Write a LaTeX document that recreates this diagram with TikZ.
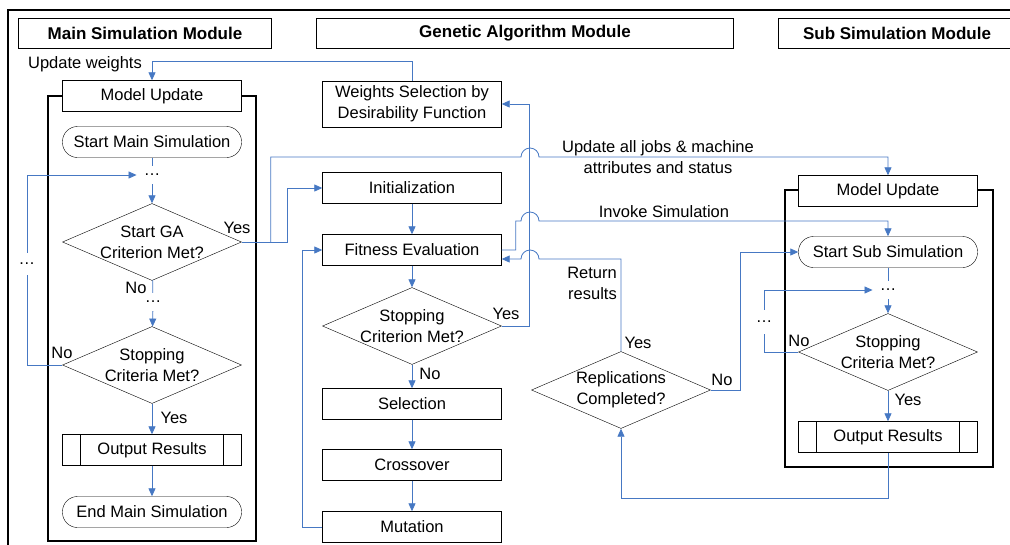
\documentclass[tikz,border=0pt]{standalone}
\usepackage{fontspec}
\setmainfont{Liberation Sans}
\usepackage{tikz}
\usetikzlibrary{shapes.geometric, arrows.meta, positioning, calc}
\definecolor{flowblue}{RGB}{70,120,195}
\tikzset{
  blk/.style={draw, fill=white, minimum width=179pt, minimum height=31pt, inner sep=2pt},
  term/.style={blk, rounded corners=15pt},
  predef/.style={blk, path picture={
      \draw ([xshift=18pt]path picture bounding box.north west) -- ([xshift=18pt]path picture bounding box.south west)
            ([xshift=-18pt]path picture bounding box.north east) -- ([xshift=-18pt]path picture bounding box.south east);}},
  decision/.style={draw, diamond, aspect=2.3, inner sep=-12pt, minimum width=179pt, minimum height=77pt, align=center},
  header/.style={minimum height=30pt, font=\fontsize{17}{20}\selectfont\bfseries},
  flow/.style={draw=flowblue, line width=0.8pt, -{Triangle[length=8pt,width=7pt]}},
  link/.style={draw=flowblue, line width=0.8pt},
  dotz/.style={inner xsep=7pt, inner ysep=9pt},
  lbl/.style={inner sep=0pt}
}
\newcommand{\flatdots}{\smash{\dots}}

\begin{document}
\begin{tikzpicture}[x=1pt, y=-1pt, font=\fontsize{16.5}{21}\selectfont]
    \useasboundingbox (0,0) rectangle (1010,544);
    % frame and module containers
    \draw[line width=2.5pt] (8,550) -- (8,10) -- (1020,10);
    \draw[line width=1.6pt] (48,96) rectangle (256,541);
    \draw[line width=1.6pt] (785,190) rectangle (993,467);

    \node[header, draw, minimum width=253pt] (mainhd) at (145,33) {Main Simulation Module};
    \node[header, draw, minimum width=417pt] (gahd) at (525,33) {Genetic Algorithm Module};
    \draw (1040,18) -| (778,48) -- (1040,48);
    \node[header] (subhd) at (897,33) {Sub Simulation Module};

    % main simulation
    \node[blk] (mainmu) at (152,96) {Model Update};
    \node[term] (startmain) at (152,142) {Start Main Simulation};
    \node[dotz] (dots1) at (152,175) {\flatdots};
    \node[decision] (sga) at (152,242) {Start GA\\Criterion Met?};
    \node[dotz] (dots2) at (153,302) {\flatdots};
    \node[decision] (mstop) at (152,365) {Stopping\\Criteria Met?};
    \node[predef] (mout) at (152,450) {Output Results};
    \node[term] (endmain) at (152,512) {End Main Simulation};
    \node[inner xsep=4pt, inner ysep=11pt] (ldots1) at (27,264) {\flatdots};

    \node[lbl] (updw) at (85,64) {Update weights};
    \node[lbl] (sgayes) at (237,228) {Yes};
    \node[lbl] (sgano) at (136,288) {No};
    \node[lbl] (mstopno) at (62,353) {No};
    \node[lbl] (mstopyes) at (174,418) {Yes};

    % genetic algorithm
    \node[blk, minimum height=46pt, align=center] (wsel) at (412,104) {Weights Selection by\\Desirability Function};
    \node[blk] (init) at (412,188) {Initialization};
    \node[blk] (fit) at (412,250) {Fitness Evaluation};
    \node[decision] (gstop) at (412,326) {Stopping\\Criterion Met?};
    \node[blk] (sel) at (412,404) {Selection};
    \node[blk] (cross) at (412,465) {Crossover};
    \node[blk] (mut) at (412,527) {Mutation};

    \node[lbl] (gstopyes) at (506,314) {Yes};
    \node[lbl] (gstopno) at (430,374) {No};

    % sub simulation
    \node[blk] (submu) at (888,191) {Model Update};
    \node[term] (startsub) at (888,252) {Start Sub Simulation};
    \node[dotz] (dots3) at (888,290) {\flatdots};
    \node[decision] (sstop) at (888,352) {Stopping\\Criteria Met?};
    \node[predef] (sout) at (888,437) {Output Results};
    \node[inner xsep=4pt, inner ysep=12pt] (ldots2) at (764,322) {\flatdots};
    \node[decision] (rep) at (621,390) {Replications\\Completed?};

    \node[lbl] (sstopno) at (799,341) {No};
    \node[lbl] (sstopyes) at (908,400) {Yes};
    \node[lbl] (repyes) at (638,343) {Yes};
    \node[lbl] (repno) at (722,380) {No};
    \node[lbl, align=center] (updall) at (658,157) {Update all jobs \& machine\\attributes and status};
    \node[lbl] (invoke) at (664,212) {Invoke Simulation};
    \node[lbl, align=right, anchor=east] (retres) at (617,283) {Return\\results};

    % main column flow
    \draw[link] (startmain) -- (dots1);
    \draw[flow] (dots1) -- (sga);
    \draw[link] (sga) -- (dots2);
    \draw[flow] (dots2) -- (mstop);
    \draw[flow] (mstop) -- (mout);
    \draw[flow] (mout) -- (endmain);
    \draw[link] (mstop.west) -| (ldots1.south);
    \draw[flow] (ldots1.north) |- (dots1.west);

    % ga column flow
    \draw[flow] (init) -- (fit);
    \draw[flow] (fit) -- (gstop);
    \draw[flow] (gstop) -- (sel);
    \draw[flow] (sel) -- (cross);
    \draw[flow] (cross) -- (mut);
    \draw[flow] (mut.west) -- ++(-20,0) |- (fit.west);
    \draw[flow] (gstop.east) -- ++(28,0) |- (wsel.east);
    \draw[flow] (wsel.north) -- ++(0,-19) -| (mainmu.north);
    \draw[flow] (sga.east) -- ++(46,0) |- (init.west);

    % links between modules (hop over x=530)
    \draw[flow] (sga.east) ++(29,0) -- ++(0,-85) -- (521,157)
      arc[start angle=180, end angle=0, radius=9pt] -| (submu.north);
    \draw[flow] (fit.east) -- ++(14,0) |- (521,221)
      arc[start angle=180, end angle=0, radius=9pt] -| (startsub.north);
    \draw[flow] (rep.north) |- (539,259)
      arc[start angle=0, end angle=180, radius=9pt] -- ([yshift=-9pt]fit.east);

    % sub column flow
    \draw[link] (startsub) -- (dots3);
    \draw[flow] (dots3) -- (sstop);
    \draw[flow] (sstop) -- (sout);
    \draw[link] (sstop.west) -| (ldots2.south);
    \draw[flow] (ldots2.north) |- (dots3.west);
    \draw[flow] (sout.south) -- ++(0,46) -| (rep.south);
    \draw[flow] (rep.east) -- ++(30,0) |- (startsub.west);
\end{tikzpicture}
\end{document}
